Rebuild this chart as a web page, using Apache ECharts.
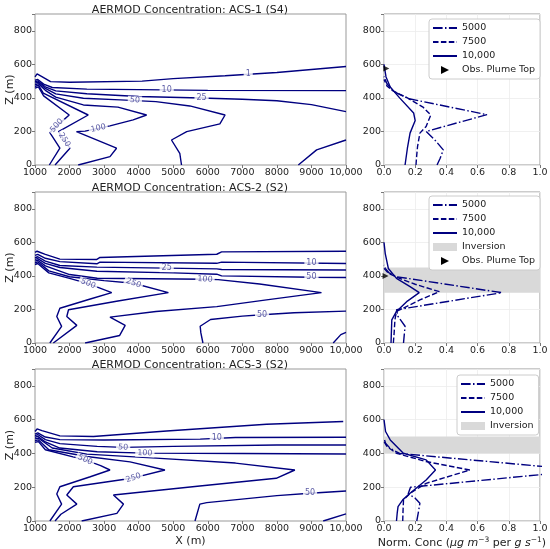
<!DOCTYPE html>
<html>
<head>
<meta charset="utf-8">
<script src="https://cdn.jsdelivr.net/npm/echarts/dist/echarts.min.js"></script>
<style>
  html, body { margin: 0; padding: 0; background: #fff; }
  #main { width: 550px; height: 549px; }
</style>
</head>
<body>
<div id="main"></div>
<script>
// contour polylines, [x (m), z (m)]
const acs1Contours = [
  [[1000, 525], [1060, 543], [1200, 527], [1450, 497], [2000, 493], [4100, 500], [5000, 515], [6500, 532], [8000, 551], [10000, 587]],
  [[1000, 505], [1080, 510], [1250, 482], [1500, 462], [2500, 452], [4000, 449], [6000, 445], [10000, 443]],
  [[1000, 496], [1080, 501], [1300, 466], [1600, 442], [2500, 425], [4000, 408], [5800, 399], [7000, 392], [8000, 383], [9000, 360], [10000, 318]],
  [[1000, 488], [1100, 493], [1300, 456], [1600, 424], [2400, 398], [3470, 388], [4500, 378], [5480, 352], [6500, 298], [6350, 245], [5390, 199], [4950, 149], [5190, 70], [5240, 0]],
  [[1000, 478], [1100, 485], [1300, 445], [1600, 405], [2400, 358], [3400, 345], [4230, 298], [3840, 269], [3170, 233], [2450, 202], [2200, 199], [3360, 100], [3170, 50], [2250, 0]],
  [[1000, 468], [1100, 476], [1240, 428], [2540, 298], [1680, 199], [2010, 100], [1580, 0]],
  [[1000, 458], [1100, 466], [1250, 412], [1990, 298], [1780, 260], [1430, 193], [1720, 100], [1415, 0]],
  [[8620, 0], [9150, 90], [10000, 149]]
];
const acs1Labels = [
  [7170, 543, '1', 0], [4810, 448, '10', 0], [5820, 400, '25', 0], [3890, 386, '50', -3],
  [2830, 219, '100', 12], [1630, 235, '500', 48], [1850, 150, '250', -58]
];

const acs2Contours = [
  [[1000, 540], [1060, 547], [1300, 528], [1720, 500], [2790, 498], [2880, 510], [6260, 529], [6400, 543], [10000, 547]],
  [[1000, 522], [1080, 528], [1300, 505], [1720, 485], [2790, 472], [2880, 482], [6260, 475], [6400, 482], [10000, 474]],
  [[1000, 508], [1080, 514], [1300, 488], [1720, 462], [2790, 452], [4810, 446], [6260, 442], [6400, 438], [10000, 435]],
  [[1000, 498], [1080, 503], [1300, 475], [1720, 450], [2790, 428], [5000, 418], [6260, 410], [6400, 400], [9000, 392], [10000, 390]],
  [[1000, 488], [1080, 493], [1300, 460], [2000, 408], [2800, 386], [5920, 380], [6300, 378], [7500, 352], [9290, 300], [7700, 257], [6260, 217], [4500, 188], [3170, 154], [3610, 105], [3450, 45], [2450, 0]],
  [[1000, 478], [1080, 484], [1400, 430], [2000, 395], [3000, 372], [3850, 356], [4860, 300], [3400, 250], [1970, 198], [1920, 158], [2210, 105], [1530, 0]],
  [[1000, 468], [1080, 474], [1400, 418], [2000, 385], [2540, 354], [3220, 300], [2600, 262], [1720, 207], [1630, 158], [1770, 99], [1430, 0]],
  [[5860, 0], [5800, 60], [5780, 100], [6080, 140], [7000, 160], [7570, 168], [8500, 180], [10000, 190]],
  [[9630, 0], [9850, 50], [10000, 63]]
];
const acs2Labels = [
  [9000, 478, '10', 0], [4810, 446, '25', 0], [9000, 392, '50', 0], [5920, 380, '100', -3],
  [3850, 356, '250', -20], [2540, 354, '500', -22], [7570, 168, '50', 0]
];

const acs3Contours = [
  [[1000, 530], [1060, 545], [1200, 535], [1720, 504], [2690, 500], [4810, 533], [7700, 573], [9920, 589]],
  [[1000, 515], [1080, 522], [1300, 497], [1720, 482], [3000, 480], [5780, 485], [6800, 494], [10000, 496]],
  [[1000, 505], [1080, 512], [1300, 482], [1720, 458], [2800, 442], [3550, 436], [5000, 442], [8000, 450], [10000, 450]],
  [[1000, 496], [1080, 501], [1300, 468], [1720, 432], [2800, 410], [4180, 402], [7000, 400], [10000, 397]],
  [[1000, 486], [1100, 490], [1500, 432], [2500, 396], [4500, 372], [6800, 343], [8520, 302], [7980, 253], [5770, 207], [3270, 154], [3560, 100], [3370, 45], [2350, 0]],
  [[1000, 476], [1100, 480], [1400, 422], [2500, 382], [3750, 350], [4760, 302], [3850, 255], [2110, 203], [1920, 154], [2210, 100], [1750, 40], [1580, 0]],
  [[1000, 466], [1100, 470], [1300, 422], [2100, 380], [2450, 362], [2900, 328], [3170, 302], [2600, 262], [1720, 203], [1630, 160], [1770, 100], [1430, 0]],
  [[5630, 0], [5770, 100], [5970, 109], [8000, 150], [8960, 164], [10000, 178]],
  [[9340, 0], [10000, 42]]
];
const acs3Labels = [
  [6260, 490, '10', 0], [3550, 436, '50', -3], [4180, 402, '100', -2],
  [2450, 362, '500', -25], [3850, 255, '250', 18], [8960, 165, '50', 0]
];

// vertical profiles, [norm conc, z (m)]
const acs1P5000 = [[0.34, 0], [0.36, 40], [0.38, 90], [0.33, 145], [0.27, 200], [0.66, 300], [0.16, 395], [0.06, 438], [0.017, 488], [0, 527]];
const acs1P7500 = [[0.205, 0], [0.21, 60], [0.215, 110], [0.23, 190], [0.27, 230], [0.30, 298], [0.25, 345], [0.15, 400], [0.06, 440], [0.02, 470], [0, 510]];
const acs1P10000 = [[0.135, 0], [0.15, 100], [0.167, 190], [0.2, 265], [0.19, 310], [0.10, 400], [0.04, 465], [0.013, 525], [0.005, 570], [0, 600]];
const acs1PlumeTop = [[0.015, 575]];

const acs2P5000 = [[0.125, 0], [0.13, 50], [0.135, 100], [0.09, 158], [0.08, 198], [0.755, 300], [0.08, 395], [0.03, 420], [0.008, 445], [0, 465]];
const acs2P7500 = [[0.06, 0], [0.065, 60], [0.07, 138], [0.08, 188], [0.23, 257], [0.355, 306], [0.2, 350], [0.1, 385], [0.03, 415], [0, 445]];
const acs2P10000 = [[0.045, 0], [0.05, 138], [0.08, 188], [0.15, 250], [0.226, 300], [0.167, 336], [0.08, 385], [0.028, 444], [0.008, 533], [0, 600]];
const acs2PlumeTop = [[0.01, 400]];
const acs2Inversion = [300, 450];

const acs3P5000 = [[0.21, 0], [0.22, 50], [0.23, 105], [0.2, 135], [0.155, 162], [0.17, 200], [1.29, 300], [0.1, 400], [0.04, 430], [0.01, 460], [0, 490]];
const acs3P7500 = [[0.12, 0], [0.122, 60], [0.125, 124], [0.167, 164], [0.27, 223], [0.55, 302], [0.27, 352], [0.08, 401], [0.02, 440], [0, 470]];
const acs3P10000 = [[0.08, 0], [0.085, 50], [0.09, 85], [0.12, 125], [0.167, 164], [0.27, 243], [0.33, 302], [0.27, 362], [0.124, 401], [0.04, 480], [0.01, 530], [0, 600]];
const acs3Inversion = [400, 500];

const titles = ['AERMOD Concentration: ACS-1 (S4)', 'AERMOD Concentration: ACS-2 (S2)', 'AERMOD Concentration: ACS-3 (S2)'];

const NAVY = '#000080';
const FONT = 'DejaVu Sans';
const tops = [14, 192, 369];
const heights = [151, 151, 152];

const chart = echarts.init(document.getElementById('main'));

var grids = [], xAxes = [], yAxes = [], series = [];

function axisCommon() {
  return {
    axisLine: { show: false },
    axisTick: { show: true, length: 3, lineStyle: { color: '#777' } },
    axisLabel: { fontFamily: FONT, fontSize: 9.5, color: '#222', margin: 3 }
  };
}

function makeGrid(left, width, row) {
  return {
    left: left, width: width, top: tops[row], height: heights[row],
    outerBoundsMode: 'none', containLabel: false,
    show: true, borderColor: '#999', borderWidth: 1
  };
}

function addContourPanel(row, lines, labels) {
  var idx = grids.length;
  grids.push(makeGrid(35, 311, row));
  var xa = axisCommon();
  Object.assign(xa, {
    gridIndex: idx, type: 'value', min: 1000, max: 10000, interval: 1000,
    splitLine: { show: false }
  });
  xa.axisLabel.formatter = function (v) { return v === 10000 ? '10,000' : String(v); };
  if (row === 2) {
    xa.name = 'X (m)';
    xa.nameLocation = 'middle';
    xa.nameGap = 15;
    xa.nameMoveOverlap = false;
    xa.nameTextStyle = { fontFamily: FONT, fontSize: 11, color: '#222' };
  }
  xAxes.push(xa);
  var ya = axisCommon();
  Object.assign(ya, {
    gridIndex: idx, type: 'value', min: 0, max: 900, interval: 200,
    splitLine: { show: false },
    name: 'Z (m)', nameLocation: 'middle', nameGap: 19, nameMoveOverlap: false,
    nameTextStyle: { fontFamily: FONT, fontSize: 11, color: '#222' }
  });
  ya.axisLabel.formatter = function (v) { return v === 900 ? '' : String(v); };
  yAxes.push(ya);

  lines.forEach(function (pts) {
    series.push({
      type: 'line', xAxisIndex: idx, yAxisIndex: idx, data: pts,
      symbol: 'none', silent: true, z: 2,
      lineStyle: { color: NAVY, width: 1.4 }
    });
  });
  series.push({
    type: 'scatter', xAxisIndex: idx, yAxisIndex: idx, silent: true, z: 5,
    symbolSize: 1, itemStyle: { color: 'rgba(0,0,0,0)' },
    data: labels.map(function (l) {
      return { value: [l[0], l[1]], name: l[2], label: { rotate: l[3] } };
    }),
    label: {
      show: true, position: 'inside', formatter: '{b}',
      fontFamily: FONT, fontSize: 8, color: '#33338f',
      backgroundColor: '#fff', padding: [0, 2]
    }
  });
}

function addProfilePanel(row, p5000, p7500, p10000, plumeTop, inversion) {
  var idx = grids.length;
  grids.push(makeGrid(384, 156, row));
  var xa = axisCommon();
  Object.assign(xa, {
    gridIndex: idx, type: 'value', min: 0, max: 1, interval: 0.2,
    splitLine: { show: true, lineStyle: { color: '#ececec', width: 0.8 } }
  });
  xa.axisLabel.formatter = function (v) { return v.toFixed(1); };
  if (row === 2) {
    xa.name = '{n|Norm. Conc (}{i|μg m}{s|−3}{n| per }{i|g s}{s|−1}{n|)}';
    xa.nameLocation = 'middle';
    xa.nameGap = 15;
    xa.nameMoveOverlap = false;
    xa.nameTextStyle = {
      fontFamily: FONT, fontSize: 11, color: '#222',
      rich: {
        n: { fontFamily: FONT, fontSize: 11, color: '#222', lineHeight: 15 },
        i: { fontFamily: FONT, fontSize: 11, color: '#222', fontStyle: 'italic', lineHeight: 15 },
        s: { fontFamily: FONT, fontSize: 7.5, color: '#222', verticalAlign: 'top', lineHeight: 9 }
      }
    };
  }
  xAxes.push(xa);
  var ya = axisCommon();
  Object.assign(ya, {
    gridIndex: idx, type: 'value', min: 0, max: 900, interval: 200,
    splitLine: { show: true, lineStyle: { color: '#ececec', width: 0.8 } }
  });
  ya.axisLabel.formatter = function (v) { return v === 900 ? '' : String(v); };
  yAxes.push(ya);

  if (inversion) {
    series.push({
      type: 'line', name: 'Inversion', xAxisIndex: idx, yAxisIndex: idx,
      data: [[0, inversion[0]], [0, inversion[1]]], symbol: 'none', silent: true, z: 1,
      lineStyle: { opacity: 0 }, itemStyle: { color: '#d9d9d9' },
      markArea: {
        silent: true, itemStyle: { color: '#d9d9d9', opacity: 1 },
        data: [[{ yAxis: inversion[0] }, { yAxis: inversion[1] }]]
      }
    });
  }
  var styles = [['5000', p5000, [9.6, 2.4, 1.5, 2.4]], ['7500', p7500, [5.5, 2.4]], ['10,000', p10000, 'solid']];
  styles.forEach(function (s) {
    series.push({
      type: 'line', name: s[0], xAxisIndex: idx, yAxisIndex: idx, data: s[1],
      symbol: 'none', silent: true, z: 3, clip: true,
      lineStyle: { color: NAVY, width: 1.4, type: s[2] }, itemStyle: { color: NAVY }
    });
  });
  if (plumeTop) {
    series.push({
      type: 'scatter', name: 'Obs. Plume Top', xAxisIndex: idx, yAxisIndex: idx, data: plumeTop,
      symbol: 'triangle', symbolRotate: -90, symbolSize: 6, silent: true, z: 4,
      itemStyle: { color: '#000' }
    });
  }
}

addContourPanel(0, acs1Contours, acs1Labels);
addProfilePanel(0, acs1P5000, acs1P7500, acs1P10000, acs1PlumeTop, null);
addContourPanel(1, acs2Contours, acs2Labels);
addProfilePanel(1, acs2P5000, acs2P7500, acs2P10000, acs2PlumeTop, acs2Inversion);
addContourPanel(2, acs3Contours, acs3Labels);
addProfilePanel(2, acs3P5000, acs3P7500, acs3P10000, null, acs3Inversion);

var tri = 'path://M0,0 L10,5 L0,10 Z';
var invItem = { name: 'Inversion', icon: 'rect', itemStyle: { color: '#d9d9d9', opacity: 1 } };
var plumeItem = { name: 'Obs. Plume Top', icon: tri, itemStyle: { color: '#000', opacity: 1 } };
function legendAt(left, top, items) {
  return {
    left: left, top: top, orient: 'vertical', data: items,
    itemWidth: 24, itemHeight: 8, itemGap: 4,
    padding: [4, 5, 4, 3], borderColor: '#ccc', borderWidth: 1, borderRadius: 3,
    backgroundColor: '#fff', selectedMode: false,
    itemStyle: { opacity: 0 },
    textStyle: { fontFamily: FONT, fontSize: 9.5, color: '#222' }
  };
}

chart.setOption({
  animation: false,
  backgroundColor: '#fff',
  title: titles.map(function (t, i) {
    return {
      text: t, left: 190, top: tops[i] - 9, textAlign: 'center', padding: 0,
      textStyle: { fontFamily: FONT, fontSize: 11, fontWeight: 'normal', color: '#222' }
    };
  }),
  legend: [
    legendAt(429, 19, ['5000', '7500', '10,000', plumeItem]),
    legendAt(429, 196, ['5000', '7500', '10,000', invItem, plumeItem]),
    legendAt(457, 375, ['5000', '7500', '10,000', invItem])
  ],
  grid: grids,
  xAxis: xAxes,
  yAxis: yAxes,
  series: series
});
</script>
</body>
</html>
